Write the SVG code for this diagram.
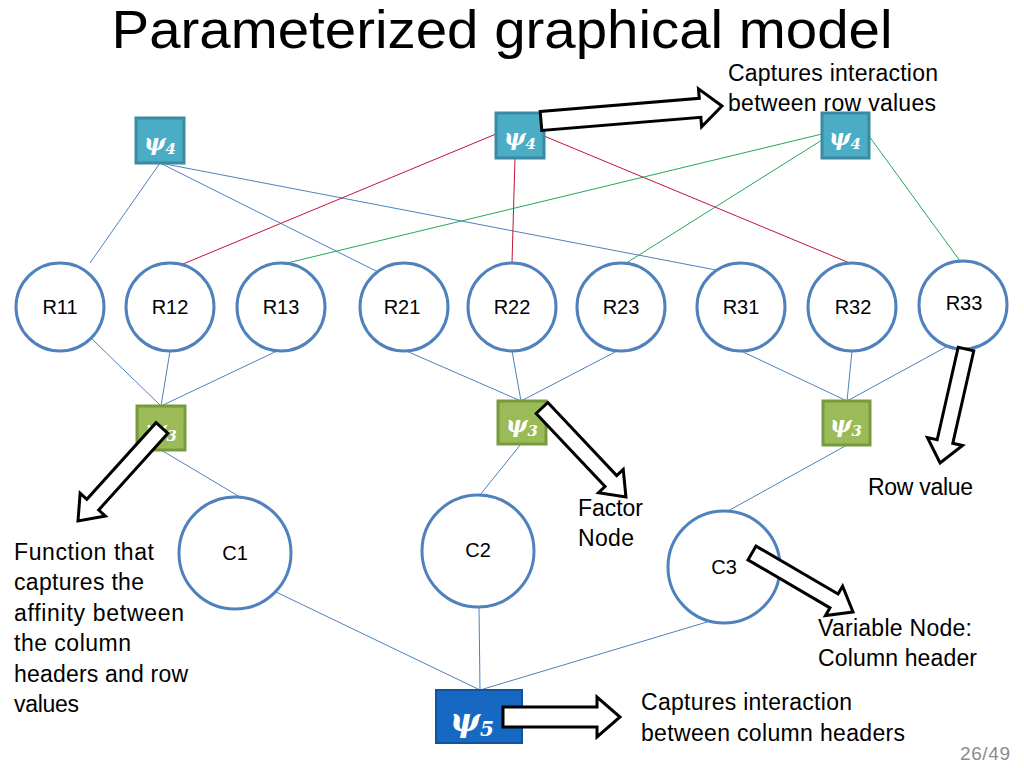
<svg xmlns="http://www.w3.org/2000/svg" width="1024" height="768" viewBox="0 0 1024 768">
<style>
.t{font-family:"Liberation Sans",Arial,sans-serif;font-size:23px;fill:#000}
.lbl{font-family:"Liberation Sans",Arial,sans-serif;font-size:20px;fill:#000;text-anchor:middle}
.var{fill:#fff;stroke:#4F81BD;stroke-width:3}
.f4{fill:#4BACC6;stroke:#3A8BA1;stroke-width:3}
.f3{fill:#9BBB59;stroke:#789A3E;stroke-width:3}
.f5{fill:#1668C2;stroke:#10549E;stroke-width:2}
.psi{font-family:"DejaVu Serif",serif;font-style:italic;font-weight:bold;fill:#fff;text-anchor:middle}
.eb{stroke:#4F81BD;stroke-width:1;fill:none}
.er{stroke:#C0143C;stroke-width:1;fill:none}
.eg{stroke:#1EAA5A;stroke-width:1;fill:none}
.ba{fill:#fff;stroke:#000;stroke-width:3;stroke-linejoin:miter}
</style>
<rect width="1024" height="768" fill="#fff"/>
<text x="502" y="48" text-anchor="middle" font-family="'Liberation Sans',Arial,sans-serif" font-size="54" textLength="781" lengthAdjust="spacingAndGlyphs">Parameterized graphical model</text>

<g id="connectors">
<line class="eb" x1="160" y1="163" x2="90" y2="263"/>
<line class="eb" x1="160" y1="163" x2="378" y2="272"/>
<line class="eb" x1="160" y1="163" x2="716" y2="270"/>
<line class="er" x1="496" y1="134" x2="183" y2="264"/>
<line class="er" x1="515" y1="158" x2="512" y2="263"/>
<line class="er" x1="544" y1="136" x2="852" y2="264"/>
<line class="eg" x1="822" y1="134" x2="283" y2="264"/>
<line class="eg" x1="822" y1="140" x2="623" y2="265"/>
<line class="eg" x1="869" y1="136" x2="960" y2="261"/>
<line class="eb" x1="92" y1="339" x2="161" y2="406"/>
<line class="eb" x1="170" y1="351" x2="161" y2="406"/>
<line class="eb" x1="277" y1="351" x2="161" y2="406"/>
<line class="eb" x1="404" y1="350" x2="521" y2="401"/>
<line class="eb" x1="512" y1="351" x2="521" y2="401"/>
<line class="eb" x1="619" y1="350" x2="521" y2="401"/>
<line class="eb" x1="741" y1="351" x2="847" y2="401"/>
<line class="eb" x1="852" y1="351" x2="847" y2="401"/>
<line class="eb" x1="946" y1="347" x2="847" y2="401"/>
<line class="eb" x1="161" y1="450" x2="240" y2="497"/>
<line class="eb" x1="521" y1="444" x2="480" y2="495"/>
<line class="eb" x1="847" y1="445" x2="728" y2="511"/>
<line class="eb" x1="276" y1="592" x2="480" y2="690"/>
<line class="eb" x1="479" y1="607" x2="480" y2="690"/>
<line class="eb" x1="707" y1="622" x2="480" y2="690"/>
</g>

<g id="psi4a"><rect class="f4" x="136" y="118" width="48" height="45"/><text class="psi" x="160" y="150" font-size="23">ψ<tspan font-size="15" dy="4">4</tspan></text></g>
<g id="psi4b"><rect class="f4" x="496" y="113" width="48" height="45"/><text class="psi" x="520" y="145" font-size="23">ψ<tspan font-size="15" dy="4">4</tspan></text></g>
<g id="psi4c"><rect class="f4" x="822" y="113" width="47" height="45"/><text class="psi" x="845" y="145" font-size="23">ψ<tspan font-size="15" dy="4">4</tspan></text></g>

<g id="R11"><circle class="var" cx="60" cy="307" r="44"/><text class="lbl" x="60" y="314">R11</text></g>
<g id="R12"><circle class="var" cx="170" cy="307" r="44"/><text class="lbl" x="170" y="314">R12</text></g>
<g id="R13"><circle class="var" cx="281" cy="307" r="44"/><text class="lbl" x="281" y="314">R13</text></g>
<g id="R21"><circle class="var" cx="404" cy="307" r="44"/><text class="lbl" x="402" y="314">R21</text></g>
<g id="R22"><circle class="var" cx="512" cy="307" r="44"/><text class="lbl" x="512" y="314">R22</text></g>
<g id="R23"><circle class="var" cx="621" cy="307" r="44"/><text class="lbl" x="621" y="314">R23</text></g>
<g id="R31"><circle class="var" cx="741" cy="307" r="44"/><text class="lbl" x="741" y="314">R31</text></g>
<g id="R32"><circle class="var" cx="852" cy="307" r="44"/><text class="lbl" x="853" y="314">R32</text></g>
<g id="R33"><circle class="var" cx="963" cy="305" r="44"/><text class="lbl" x="964" y="310">R33</text></g>

<g id="psi3a"><rect class="f3" x="137" y="406" width="48" height="44"/><text class="psi" x="161" y="437" font-size="23">ψ<tspan font-size="15" dy="4">3</tspan></text></g>
<g id="psi3b"><rect class="f3" x="498" y="401" width="48" height="43"/><text class="psi" x="522" y="432" font-size="23">ψ<tspan font-size="15" dy="4">3</tspan></text></g>
<g id="psi3c"><rect class="f3" x="823" y="401" width="47" height="44"/><text class="psi" x="846" y="432" font-size="23">ψ<tspan font-size="15" dy="4">3</tspan></text></g>

<g id="C1"><circle class="var" cx="235" cy="553" r="56"/><text class="lbl" x="235" y="560">C1</text></g>
<g id="C2"><circle class="var" cx="478" cy="551" r="56"/><text class="lbl" x="478" y="557">C2</text></g>
<g id="C3"><circle class="var" cx="724" cy="567" r="56"/><text class="lbl" x="724" y="574">C3</text></g>

<g id="psi5"><rect class="f5" x="436" y="690" width="86" height="53"/><text class="psi" x="472" y="731" font-size="32">ψ<tspan font-size="20" dy="5">5</tspan></text></g>

<g id="block-arrows">
<path class="ba" transform="translate(541,121) rotate(-4.74)" d="M0,-9.5 H159.6 V-19 L181.6,0 L159.6,19 V9.5 H0 Z"/>
<path class="ba" transform="translate(162,428) rotate(132.1)" d="M0,-8 H103.3 V-17 L125.3,0 L103.3,17 V8 H0 Z"/>
<path class="ba" transform="translate(542,408) rotate(46.7)" d="M0,-8 H100.4 V-17 L122.4,0 L100.4,17 V8 H0 Z"/>
<path class="ba" transform="translate(966,349) rotate(102.8)" d="M0,-8 H94.9 V-18 L116.9,0 L94.9,18 V8 H0 Z"/>
<path class="ba" transform="translate(752,553) rotate(30.3)" d="M0,-8 H95 V-17 L117,0 L95,17 V8 H0 Z"/>
<path class="ba" d="M503,707 H597 V697 L620,717 L597,737 V727 H503 Z"/>
</g>

<g id="labels">
<text class="t" x="728" y="81" textLength="210">Captures interaction</text>
<text class="t" x="728" y="111" textLength="208">between row values</text>
<text class="t" x="868" y="495" textLength="105">Row value</text>
<text class="t" x="578" y="516" textLength="65">Factor</text>
<text class="t" x="578" y="546" textLength="56">Node</text>
<text class="t" x="14" y="560" textLength="140">Function that</text>
<text class="t" x="14" y="590" textLength="130">captures the</text>
<text class="t" x="14" y="621" textLength="170">affinity between</text>
<text class="t" x="14" y="651" textLength="117">the column</text>
<text class="t" x="14" y="682" textLength="174">headers and row</text>
<text class="t" x="14" y="712" textLength="65">values</text>
<text class="t" x="818" y="636" textLength="154">Variable Node:</text>
<text class="t" x="818" y="666" textLength="159">Column header</text>
<text class="t" x="641" y="710" textLength="211">Captures interaction</text>
<text class="t" x="641" y="741" textLength="264">between column headers</text>
<text x="960" y="760" font-family="'Liberation Sans',Arial,sans-serif" font-size="19" fill="#8C8C8C" textLength="50">26/49</text>
</g>
</svg>
